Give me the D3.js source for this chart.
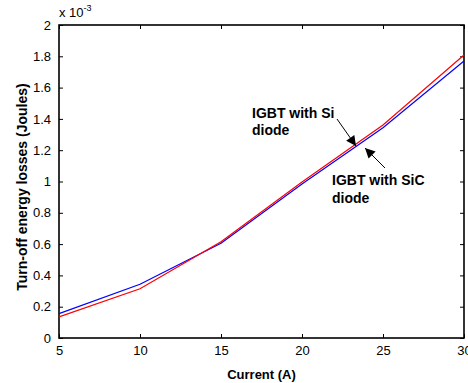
<!DOCTYPE html>
<html><head><meta charset="utf-8">
<script src="https://cdn.jsdelivr.net/npm/d3@7"></script>
<style>body{margin:0;background:#fff}svg{display:block}text{font-family:"Liberation Sans",Arial,sans-serif}</style>
</head><body>
<svg id="c" width="468" height="383"></svg>
<script>
const current = [5, 10, 15, 20, 25, 30];
const siDiode = [0.135, 0.315, 0.615, 0.997, 1.361, 1.808];
const sicDiode = [0.156, 0.343, 0.605, 0.984, 1.344, 1.770];
const xTicks = [5, 10, 15, 20, 25, 30];
const yTicks = [0, 0.2, 0.4, 0.6, 0.8, 1, 1.2, 1.4, 1.6, 1.8, 2];

const svg = d3.select("#c");
const L = 59, R = 464, T = 25, B = 338;
const x = d3.scaleLinear().domain([5, 30]).range([L, R]);
const y = d3.scaleLinear().domain([0, 2]).range([B, T]);
const fmt = d => d === 0 ? "0" : (Number.isInteger(d) ? String(d) : d.toFixed(1));

function styleAxis(g){
  g.select(".domain").remove();
  g.selectAll("line").attr("stroke","#000");
  g.selectAll("text").attr("font-size","13px").attr("fill","#000");
}
svg.append("g").attr("transform",`translate(0,${B})`)
  .call(d3.axisBottom(x).tickValues(xTicks).tickSizeInner(-4).tickPadding(8).tickFormat(fmt)).call(styleAxis);
svg.append("g").attr("transform",`translate(0,${T})`)
  .call(d3.axisTop(x).tickValues(xTicks).tickSizeInner(-4).tickFormat("")).call(styleAxis);
svg.append("g").attr("transform",`translate(${L},0)`)
  .call(d3.axisLeft(y).tickValues(yTicks).tickSizeInner(-4).tickPadding(8).tickFormat(fmt)).call(styleAxis);
svg.append("g").attr("transform",`translate(${R},0)`)
  .call(d3.axisRight(y).tickValues(yTicks).tickSizeInner(-4).tickFormat("")).call(styleAxis);

svg.append("rect").attr("x",L).attr("y",T).attr("width",R-L).attr("height",B-T)
  .attr("fill","none").attr("stroke","#000").attr("stroke-width",1.6);

const line = d3.line().x((d,i)=>x(current[i])).y(d=>y(d));
svg.append("path").datum(sicDiode).attr("d",line).attr("fill","none").attr("stroke","#0000ff").attr("stroke-width",1.2);
svg.append("path").datum(siDiode).attr("d",line).attr("fill","none").attr("stroke","#ff0000").attr("stroke-width",1.2);

// exponent label
const ex = svg.append("text").attr("x",59).attr("y",17).attr("font-size","13px");
ex.append("tspan").text("x 10");
ex.append("tspan").attr("dy",-6).attr("font-size","9px").text("-3");

// axis labels
svg.append("text").attr("x",(L+R)/2).attr("y",379).attr("text-anchor","middle")
  .attr("font-size","13px").attr("font-weight","bold").text("Current (A)");
svg.append("text").attr("transform",`translate(27,187) rotate(-90)`).attr("text-anchor","middle")
  .attr("font-size","14px").attr("font-weight","bold").text("Turn-off energy losses (Joules)");

// annotations
const defs = svg.append("defs");
defs.append("marker").attr("id","ah").attr("viewBox","0 0 10 10").attr("refX",10).attr("refY",5)
  .attr("markerWidth",12).attr("markerHeight",10).attr("markerUnits","userSpaceOnUse").attr("orient","auto")
  .append("path").attr("d","M0,0 L10,5 L0,10 Z").attr("fill","#000");

function annot(lines, tx, ty, gap){
  const t = svg.append("text").attr("x",tx).attr("y",ty).attr("font-size","14px").attr("font-weight","bold");
  lines.forEach((s,i)=>t.append("tspan").attr("x",tx).attr("dy",i?gap:0).text(s));
}
annot(["IGBT with Si","diode"], 252, 118, 17);
annot(["IGBT with SiC","diode"], 332, 185, 18);
svg.append("line").attr("x1",337).attr("y1",119).attr("x2",356).attr("y2",146)
  .attr("stroke","#000").attr("stroke-width",1).attr("marker-end","url(#ah)");
svg.append("line").attr("x1",385).attr("y1",168).attr("x2",365).attr("y2",148)
  .attr("stroke","#000").attr("stroke-width",1).attr("marker-end","url(#ah)");
</script>
</body></html>
